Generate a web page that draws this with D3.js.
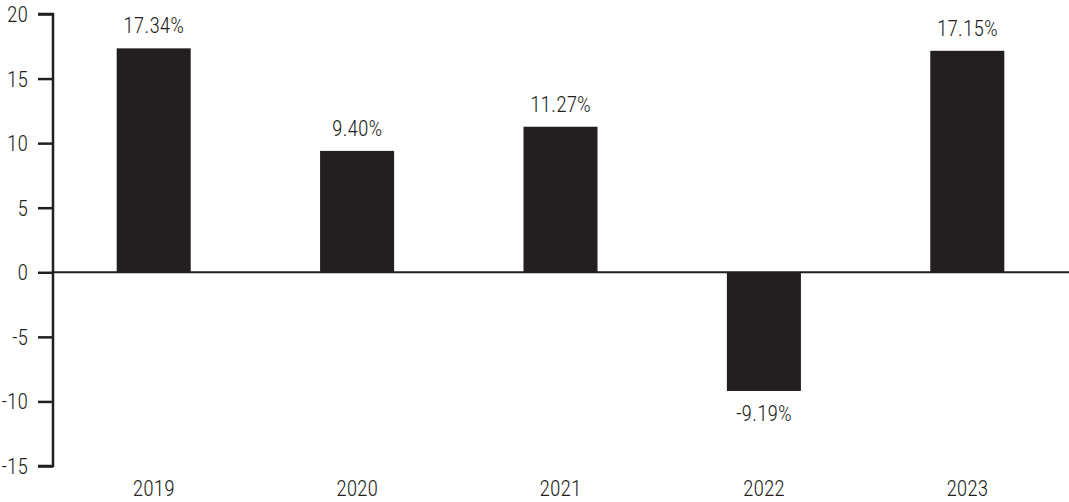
<!DOCTYPE html>
<html><head><meta charset="utf-8">
<script src="https://cdn.jsdelivr.net/npm/d3@7"></script>
<style>
html,body{margin:0;padding:0;background:#fff;}
svg text{font-family:"Roboto Condensed","Liberation Sans Narrow","DejaVu Sans Condensed",sans-serif;font-weight:300;fill:#231f20;}
</style></head>
<body>
<svg id="chart" width="1069" height="502"></svg>
<script>
const years = ["2019","2020","2021","2022","2023"];
const returns = [17.34, 9.40, 11.27, -9.19, 17.15];
const yTicks = [20, 15, 10, 5, 0, -5, -10, -15];

const svg = d3.select("#chart");
const ink = "#231f20";
const fam = '"Roboto Condensed","Liberation Sans Narrow","DejaVu Sans Condensed",sans-serif';
const fs = 21.5;
const x = d3.scaleBand().domain(years).range([52, 1069]).paddingInner(0.636).paddingOuter(0.318);
const y = d3.scaleLinear().domain([-15, 20]).range([466, 14]);

// bars
svg.selectAll("rect.bar").data(years).enter().append("rect")
  .attr("x", d => x(d))
  .attr("width", x.bandwidth())
  .attr("y", (d,i) => y(Math.max(0, returns[i])))
  .attr("height", (d,i) => Math.abs(y(returns[i]) - y(0)))
  .attr("fill", ink);

// zero line
svg.append("line").attr("x1", 52).attr("x2", 1069).attr("y1", y(0)).attr("y2", y(0))
  .attr("stroke", ink).attr("stroke-width", 2);

// y axis
const yAxis = d3.axisLeft(y).tickValues(yTicks).tickSize(15).tickPadding(10).tickFormat(d => String(d));
const gy = svg.append("g").attr("transform", "translate(53,0)").call(yAxis);
gy.select(".domain").attr("stroke", ink).attr("stroke-width", 2.5).attr("d", `M-15,${y(20)}H0V${y(-15)}H-15`);
gy.selectAll(".tick line").attr("stroke", ink).attr("stroke-width", 2.5);
gy.selectAll(".tick text").attr("font-size", fs).style("font-family", fam).style("font-weight", 300).attr("fill", ink).attr("dy", "0.35em");

// x labels
svg.selectAll("text.year").data(years).enter().append("text")
  .attr("x", d => x(d) + x.bandwidth()/2)
  .attr("y", 496)
  .attr("text-anchor", "middle")
  .attr("font-size", fs)
  .text(d => d);

// value labels
svg.selectAll("text.val").data(years).enter().append("text")
  .attr("x", d => x(d) + x.bandwidth()/2)
  .attr("y", (d,i) => returns[i] >= 0 ? y(returns[i]) - 15 : y(returns[i]) + 30)
  .attr("text-anchor", "middle")
  .attr("font-size", fs)
  .text((d,i) => returns[i].toFixed(2) + "%");
</script>
</body></html>
